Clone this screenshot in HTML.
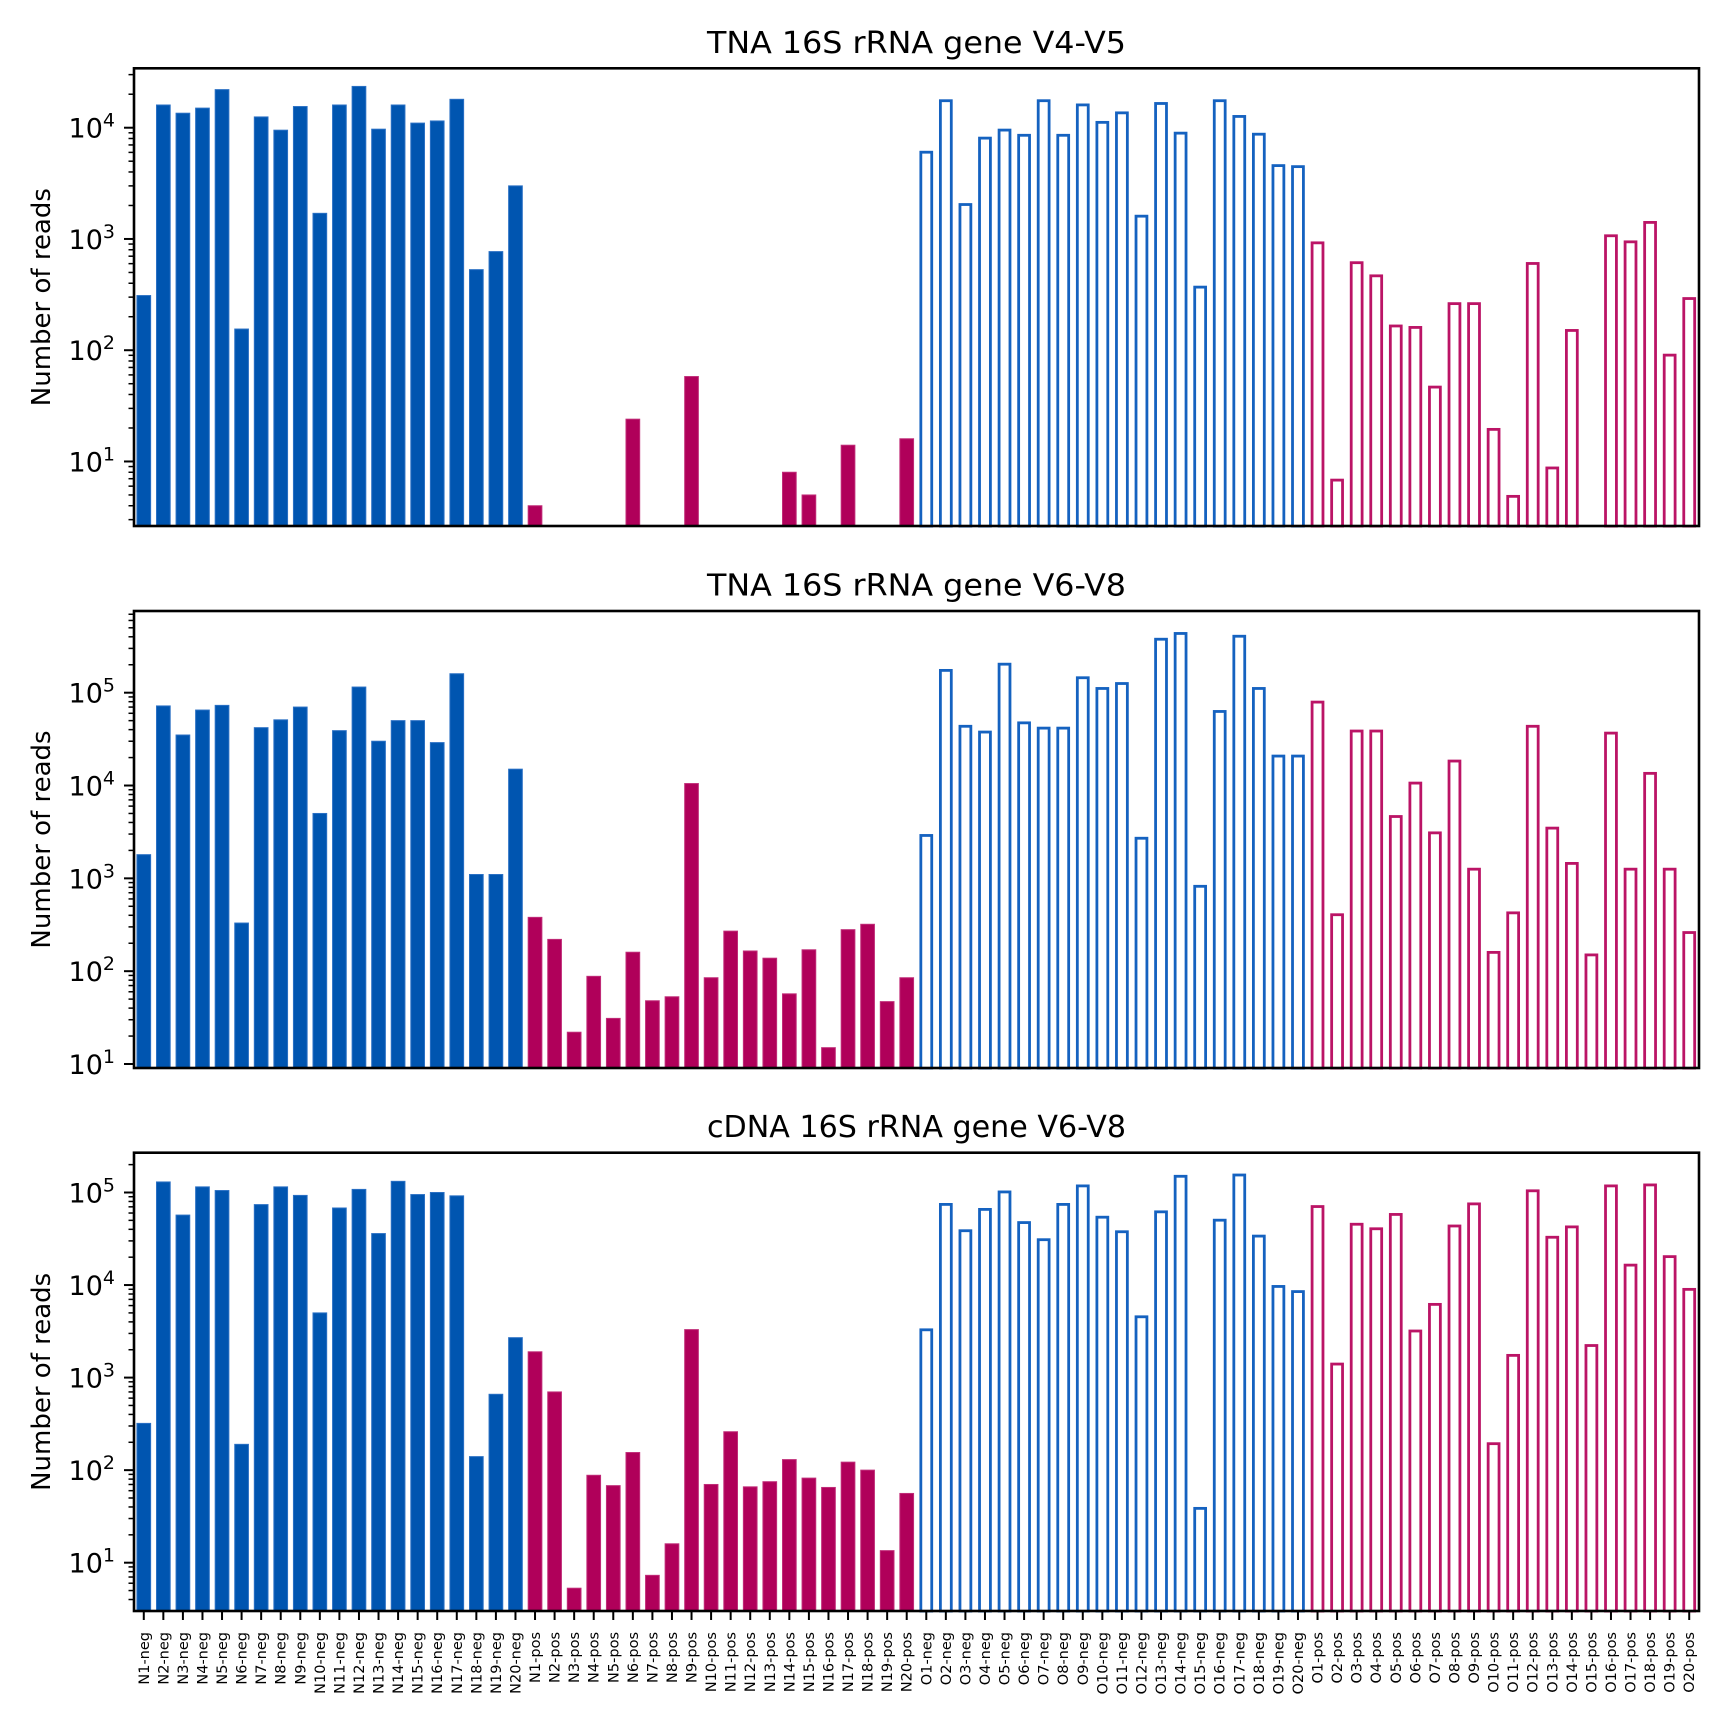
<!DOCTYPE html>
<html><head><meta charset="utf-8"><style>
html,body{margin:0;padding:0;background:#fff;}
svg{display:block;font-family:"DejaVu Sans","Liberation Sans",sans-serif;}
</style></head><body>
<svg id="fig" width="1728" height="1728" viewBox="0 0 1728 1728" xmlns="http://www.w3.org/2000/svg"></svg>
<script>
const categories = ["N1-neg","N2-neg","N3-neg","N4-neg","N5-neg","N6-neg","N7-neg","N8-neg","N9-neg","N10-neg","N11-neg","N12-neg","N13-neg","N14-neg","N15-neg","N16-neg","N17-neg","N18-neg","N19-neg","N20-neg",
"N1-pos","N2-pos","N3-pos","N4-pos","N5-pos","N6-pos","N7-pos","N8-pos","N9-pos","N10-pos","N11-pos","N12-pos","N13-pos","N14-pos","N15-pos","N16-pos","N17-pos","N18-pos","N19-pos","N20-pos",
"O1-neg","O2-neg","O3-neg","O4-neg","O5-neg","O6-neg","O7-neg","O8-neg","O9-neg","O10-neg","O11-neg","O12-neg","O13-neg","O14-neg","O15-neg","O16-neg","O17-neg","O18-neg","O19-neg","O20-neg",
"O1-pos","O2-pos","O3-pos","O4-pos","O5-pos","O6-pos","O7-pos","O8-pos","O9-pos","O10-pos","O11-pos","O12-pos","O13-pos","O14-pos","O15-pos","O16-pos","O17-pos","O18-pos","O19-pos","O20-pos"];
const titles = ["TNA 16S rRNA gene V4-V5","TNA 16S rRNA gene V6-V8","cDNA 16S rRNA gene V6-V8"];
const v4v5 = [310,16000,13500,15000,22000,155,12500,9500,15500,1700,16000,23500,9700,16000,11000,11500,18000,530,770,3000,
4,0,0,0,0,24,0,0,58,0,0,0,0,8,5,0,14,0,0,16,
6200,18000,2100,8300,9800,8800,18000,8800,16500,11500,14000,1650,17000,9200,380,18000,13000,9000,4700,4600,
950,7,630,480,170,165,48,270,270,20,5,620,9,155,0,1100,970,1450,93,300];
const tnaV6v8 = [1800,72000,35000,65000,73000,330,42000,51000,70000,5000,39000,115000,30000,50000,50000,29000,160000,1100,1100,15000,
380,220,22,88,31,160,48,53,10500,85,270,165,138,57,170,15,280,320,47,85,
3000,180000,45000,39000,210000,49000,43000,43000,150000,115000,130000,2800,390000,450000,850,65000,420000,115000,21500,21500,
82000,420,40000,40000,4800,11000,3200,19000,1300,165,440,45000,3600,1500,155,38000,1300,14000,1300,270];
const cdnaV6v8 = [320,130000,57000,115000,105000,190,74000,115000,93000,5000,68000,108000,36000,132000,95000,100000,92000,140,660,2700,
1900,700,5.3,88,68,155,7.3,16,3300,70,260,66,75,130,82,65,122,100,13.5,56,
3400,77000,40000,68000,105000,49000,32000,77000,122000,56000,39000,4700,64000,155000,40,52000,160000,35000,10000,8800,
73000,1450,47000,42000,60000,3300,6400,45000,78000,200,1800,108000,34000,44000,2300,122000,17000,125000,21000,9300];
const yTickExps = [1,2,3,4,5];

const NS="http://www.w3.org/2000/svg";
const svg=document.getElementById('fig');
function mk(tag,attrs,parent){const e=document.createElementNS(NS,tag);for(const k in attrs)e.setAttribute(k,attrs[k]);(parent||svg).appendChild(e);return e;}

const X0=134, X1=1699;
const panels=[
 {top:68.3,bottom:526,lmin:0.42,lmax:4.534,data:v4v5,labels:false,name:'v4v5'},
 {top:611,bottom:1068,lmin:0.957,lmax:5.88,data:tnaV6v8,labels:false,name:'tna-v6v8'},
 {top:1152.7,bottom:1611,lmin:0.478,lmax:5.43,data:cdnaV6v8,labels:true,name:'cdna-v6v8'}
];
const n=categories.length;
const step=(X1-X0)/n;
function xScale(i){return X0+(i+0.5)*step;}
const BLUE='#0055b0', PINK='#b0005a';

panels.forEach((p,pi)=>{
  const g=mk('g',{});
  
  
  const yScale=v=>p.bottom-(Math.log10(v)-p.lmin)/(p.lmax-p.lmin)*(p.bottom-p.top);
  // bars
  p.data.forEach((v,i)=>{
    if(!(v>0))return;
    const grp=Math.floor(i/20);
    const color=(grp%2===0)?BLUE:PINK;
    const filled=grp<2;
    const cx=xScale(i), w=step*0.7;
    const yt=Math.max(yScale(v),p.top);
    let r;
    if(filled){
      r=mk('rect',{x:cx-w/2,y:yt,width:w,height:p.bottom-yt,fill:color,stroke:color==BLUE?'#2a70c4':'#c02c78','stroke-width':1},g);
    }else{
      r=mk('rect',{x:cx-w/2+1.4,y:yt+1.4,width:w-2.8,height:p.bottom-yt,fill:'#fff',stroke:color==BLUE?'#1562c0':'#bb1466','stroke-width':2.8},g);
    }
    
    
  });
  // white cover below axis bottom (for outline bottoms)
  mk('rect',{x:X0-2,y:p.bottom+1.5,width:X1-X0+4,height:6,fill:'#fff'},g);
  // y ticks
  for(let e=Math.floor(p.lmin);e<=Math.ceil(p.lmax);e++){
    for(let m=1;m<10;m++){
      const v=m*Math.pow(10,e);
      const lv=Math.log10(v);
      if(lv<p.lmin||lv>p.lmax)continue;
      const y=yScale(v);
      mk('line',{x1:X0,x2:X0-(m===1?10:5.5),y1:y,y2:y,stroke:'#000','stroke-width':m===1?2:1.5},g);
    }
  }
  yTickExps.forEach(e=>{
    if(e<p.lmin-0.05||e>p.lmax)return;
    const y=yScale(Math.pow(10,e));
    const t=mk('text',{x:115,y:y+10,'text-anchor':'end','font-size':27,fill:'#000'},g);
    
    
    const a=document.createElementNS(NS,'tspan');a.textContent='10';t.appendChild(a);
    const b=document.createElementNS(NS,'tspan');b.setAttribute('dy','-11');b.setAttribute('font-size','19');b.textContent=String(e);t.appendChild(b);
  });
  // spine
  const sp=mk('rect',{x:X0,y:p.top,width:X1-X0,height:p.bottom-p.top,fill:'none',stroke:'#000','stroke-width':2.6},g);
  
  
  // title
  const tt=mk('text',{x:(X0+X1)/2,y:p.top-15.5,'text-anchor':'middle','font-size':30,fill:'#000',textLength:419,lengthAdjust:'spacingAndGlyphs'},g);
  tt.textContent=titles[pi];
  
  
  // y label
  const cy=(p.top+p.bottom)/2;
  const yl=mk('text',{x:0,y:0,transform:`translate(50,${cy}) rotate(-90)`,'text-anchor':'middle','font-size':26,fill:'#000'},g);
  yl.textContent='Number of reads';
  
  
  // x ticks
  if(p.labels){
    categories.forEach((c,i)=>{
      const x=xScale(i);
      mk('line',{x1:x,x2:x,y1:p.bottom,y2:p.bottom+9,stroke:'#000','stroke-width':2},g);
      const tl=mk('text',{x:0,y:0,transform:`translate(${x+5},${p.bottom+21}) rotate(-90)`,'text-anchor':'end','font-size':14.5,fill:'#000'},g);
      tl.textContent=c;
      
      
    });
  }
});
</script>
</body></html>
